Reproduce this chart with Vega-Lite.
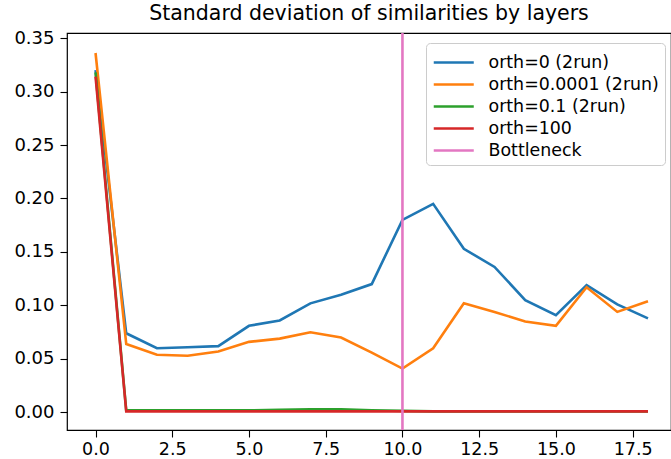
{
  "$schema": "https://vega.github.io/schema/vega-lite/v6.json",
  "autosize": {"type": "none"},
  "padding": {"left": 67, "top": 33, "right": 0, "bottom": 29},
  "width": 604,
  "height": 397,
  "background": "white",
  "title": {
    "text": "Standard deviation of similarities by layers",
    "font": "DejaVu Sans",
    "fontSize": 20.5,
    "fontWeight": "normal",
    "color": "#000000",
    "anchor": "middle",
    "baseline": "alphabetic",
    "offset": 11,
    "dy": 22
  },
  "config": {
    "view": {"stroke": "#000000", "strokeWidth": 1.2},
    "axis": {
      "domain": false,
      "grid": false,
      "tickColor": "#000000",
      "tickSize": 7,
      "tickWidth": 1.1,
      "labelFont": "DejaVu Sans",
      "labelFontSize": 18,
      "labelColor": "#000000",
      "labelPadding": 6,
      "title": null
    },
    "axisX": {"labelPadding": 3, "labelFontSize": 17.5}
  },
  "datasets": {
    "lines": [
      {"series": "orth=0 (2run)", "layer": 0, "std": 0.320},
      {"series": "orth=0 (2run)", "layer": 1, "std": 0.074},
      {"series": "orth=0 (2run)", "layer": 2, "std": 0.060},
      {"series": "orth=0 (2run)", "layer": 3, "std": 0.061},
      {"series": "orth=0 (2run)", "layer": 4, "std": 0.062},
      {"series": "orth=0 (2run)", "layer": 5, "std": 0.081},
      {"series": "orth=0 (2run)", "layer": 6, "std": 0.086},
      {"series": "orth=0 (2run)", "layer": 7, "std": 0.102},
      {"series": "orth=0 (2run)", "layer": 8, "std": 0.110},
      {"series": "orth=0 (2run)", "layer": 9, "std": 0.120},
      {"series": "orth=0 (2run)", "layer": 10, "std": 0.180},
      {"series": "orth=0 (2run)", "layer": 11, "std": 0.195},
      {"series": "orth=0 (2run)", "layer": 12, "std": 0.153},
      {"series": "orth=0 (2run)", "layer": 13, "std": 0.136},
      {"series": "orth=0 (2run)", "layer": 14, "std": 0.105},
      {"series": "orth=0 (2run)", "layer": 15, "std": 0.091},
      {"series": "orth=0 (2run)", "layer": 16, "std": 0.119},
      {"series": "orth=0 (2run)", "layer": 17, "std": 0.101},
      {"series": "orth=0 (2run)", "layer": 18, "std": 0.088},
      {"series": "orth=0.0001 (2run)", "layer": 0, "std": 0.336},
      {"series": "orth=0.0001 (2run)", "layer": 1, "std": 0.064},
      {"series": "orth=0.0001 (2run)", "layer": 2, "std": 0.054},
      {"series": "orth=0.0001 (2run)", "layer": 3, "std": 0.053},
      {"series": "orth=0.0001 (2run)", "layer": 4, "std": 0.057},
      {"series": "orth=0.0001 (2run)", "layer": 5, "std": 0.066},
      {"series": "orth=0.0001 (2run)", "layer": 6, "std": 0.069},
      {"series": "orth=0.0001 (2run)", "layer": 7, "std": 0.075},
      {"series": "orth=0.0001 (2run)", "layer": 8, "std": 0.070},
      {"series": "orth=0.0001 (2run)", "layer": 9, "std": 0.056},
      {"series": "orth=0.0001 (2run)", "layer": 10, "std": 0.041},
      {"series": "orth=0.0001 (2run)", "layer": 11, "std": 0.060},
      {"series": "orth=0.0001 (2run)", "layer": 12, "std": 0.102},
      {"series": "orth=0.0001 (2run)", "layer": 13, "std": 0.094},
      {"series": "orth=0.0001 (2run)", "layer": 14, "std": 0.085},
      {"series": "orth=0.0001 (2run)", "layer": 15, "std": 0.081},
      {"series": "orth=0.0001 (2run)", "layer": 16, "std": 0.117},
      {"series": "orth=0.0001 (2run)", "layer": 17, "std": 0.094},
      {"series": "orth=0.0001 (2run)", "layer": 18, "std": 0.104},
      {"series": "orth=0.1 (2run)", "layer": 0, "std": 0.318},
      {"series": "orth=0.1 (2run)", "layer": 1, "std": 0.002},
      {"series": "orth=0.1 (2run)", "layer": 2, "std": 0.002},
      {"series": "orth=0.1 (2run)", "layer": 3, "std": 0.002},
      {"series": "orth=0.1 (2run)", "layer": 4, "std": 0.002},
      {"series": "orth=0.1 (2run)", "layer": 5, "std": 0.002},
      {"series": "orth=0.1 (2run)", "layer": 6, "std": 0.0025},
      {"series": "orth=0.1 (2run)", "layer": 7, "std": 0.003},
      {"series": "orth=0.1 (2run)", "layer": 8, "std": 0.003},
      {"series": "orth=0.1 (2run)", "layer": 9, "std": 0.002},
      {"series": "orth=0.1 (2run)", "layer": 10, "std": 0.0015},
      {"series": "orth=0.1 (2run)", "layer": 11, "std": 0.001},
      {"series": "orth=0.1 (2run)", "layer": 12, "std": 0.001},
      {"series": "orth=0.1 (2run)", "layer": 13, "std": 0.001},
      {"series": "orth=0.1 (2run)", "layer": 14, "std": 0.001},
      {"series": "orth=0.1 (2run)", "layer": 15, "std": 0.001},
      {"series": "orth=0.1 (2run)", "layer": 16, "std": 0.001},
      {"series": "orth=0.1 (2run)", "layer": 17, "std": 0.001},
      {"series": "orth=0.1 (2run)", "layer": 18, "std": 0.001},
      {"series": "orth=100", "layer": 0, "std": 0.314},
      {"series": "orth=100", "layer": 1, "std": 0.001},
      {"series": "orth=100", "layer": 2, "std": 0.001},
      {"series": "orth=100", "layer": 3, "std": 0.001},
      {"series": "orth=100", "layer": 4, "std": 0.001},
      {"series": "orth=100", "layer": 5, "std": 0.001},
      {"series": "orth=100", "layer": 6, "std": 0.001},
      {"series": "orth=100", "layer": 7, "std": 0.001},
      {"series": "orth=100", "layer": 8, "std": 0.001},
      {"series": "orth=100", "layer": 9, "std": 0.001},
      {"series": "orth=100", "layer": 10, "std": 0.001},
      {"series": "orth=100", "layer": 11, "std": 0.001},
      {"series": "orth=100", "layer": 12, "std": 0.001},
      {"series": "orth=100", "layer": 13, "std": 0.001},
      {"series": "orth=100", "layer": 14, "std": 0.001},
      {"series": "orth=100", "layer": 15, "std": 0.001},
      {"series": "orth=100", "layer": 16, "std": 0.001},
      {"series": "orth=100", "layer": 17, "std": 0.001},
      {"series": "orth=100", "layer": 18, "std": 0.001}
    ],
    "bottleneck": [{"series": "Bottleneck", "layer": 10}]
  },
  "layer": [
    {
      "data": {"name": "lines"},
      "mark": {"type": "line", "strokeWidth": 2.6, "clip": true},
      "encoding": {
        "x": {
          "field": "layer",
          "type": "quantitative",
          "scale": {"domain": [-0.93, 18.75], "nice": false, "zero": false},
          "axis": {"values": [0, 2.5, 5, 7.5, 10, 12.5, 15, 17.5], "format": ".1f"}
        },
        "y": {
          "field": "std",
          "type": "quantitative",
          "scale": {"domain": [-0.0164, 0.3547], "nice": false, "zero": false},
          "axis": {"values": [0, 0.05, 0.1, 0.15, 0.2, 0.25, 0.3, 0.35], "format": ".2f"}
        },
        "color": {
          "field": "series",
          "type": "nominal",
          "scale": {
            "domain": ["orth=0 (2run)", "orth=0.0001 (2run)", "orth=0.1 (2run)", "orth=100", "Bottleneck"],
            "range": ["#1f77b4", "#ff7f0e", "#2ca02c", "#d62728", "#e377c2"]
          },
          "legend": {
            "title": null,
            "orient": "none",
            "legendX": 359,
            "legendY": 10,
            "padding": 6,
            "fillColor": "#ffffff",
            "strokeColor": "#cccccc",
            "cornerRadius": 4,
            "symbolType": "M-1,0H2.406",
            "symbolSize": 552,
            "symbolStrokeWidth": 2.6,
            "symbolFillColor": "transparent",
            "labelFont": "DejaVu Sans",
            "labelFontSize": 17.4,
            "labelColor": "#000000",
            "labelOffset": 29.5,
            "rowPadding": 0,
            "labelLimit": 400
          }
        },
        "order": {"field": "layer"}
      }
    },
    {
      "data": {"name": "bottleneck"},
      "mark": {"type": "rule", "strokeWidth": 2.6},
      "encoding": {
        "x": {"field": "layer", "type": "quantitative"},
        "color": {"field": "series", "type": "nominal"}
      }
    }
  ]
}
